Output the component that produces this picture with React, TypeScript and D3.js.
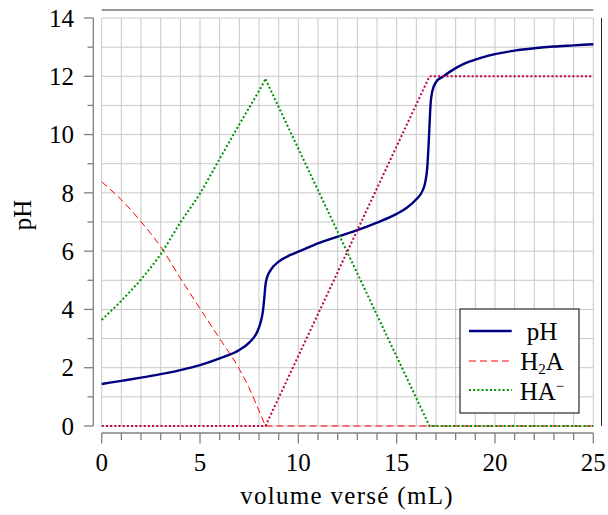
import * as d3 from 'd3';

// titration of a diacid H2A : volume (mL) -> value
const phCurve: [number, number][] = [
  [0, 1.44], [1, 1.55], [2, 1.66], [3, 1.78], [4, 1.92], [5, 2.09], [6, 2.32],
  [7, 2.61], [7.5, 2.86], [7.9, 3.22], [8.08, 3.55], [8.2, 3.95], [8.27, 4.4],
  [8.33, 4.85], [8.42, 5.12], [8.6, 5.36], [9, 5.64], [9.6, 5.87], [10, 5.98],
  [11, 6.27], [12, 6.5], [13, 6.72], [14, 6.98], [15, 7.28], [15.5, 7.48],
  [16, 7.78], [16.3, 8.05], [16.45, 8.35], [16.56, 8.9], [16.62, 9.6],
  [16.67, 10.3], [16.72, 11.0], [16.8, 11.45], [17.0, 11.8], [17.38, 12.0],
  [18, 12.28], [18.56, 12.47], [19, 12.57], [20, 12.76], [21, 12.88],
  [22, 12.96], [23, 13.02], [24, 13.06], [25, 13.1],
];
const h2aFalling: [number, number][] = [
  [0, 8.38], [1, 7.76], [2, 7.01], [3, 6.15], [4, 5.07], [5, 4.03], [6, 3.0],
  [7, 1.95], [7.5, 1.3], [8, 0.52], [8.33, 0],
];
const h2aFlat: [number, number][] = [[8.33, 0], [25, 0]];
const haRising: [number, number][] = [
  [0, 3.64], [1, 4.3], [2, 5.03], [3, 5.9], [4, 6.98], [5, 7.98], [6, 9.17],
  [7, 10.35], [8, 11.5], [8.33, 11.9],
];
const haFalling: [number, number][] = [[8.33, 11.9], [16.67, 0], [25, 0]];
const a2Curve: [number, number][] = [
  [0, 0], [8.33, 0], [16.67, 12], [25, 12],
];

const xTicks = [0, 5, 10, 15, 20, 25];
const yTicks = [0, 2, 4, 6, 8, 10, 12, 14];

const FONT = '"Liberation Serif", serif';
const FS = 25;

export default function App() {
  const x = d3.scaleLinear().domain([0, 25]).range([101.7, 593.3]);
  const y = d3.scaleLinear().domain([0, 14]).range([426, 18]);

  const lineSmooth = d3.line<[number, number]>()
    .x(d => x(d[0])).y(d => y(d[1])).curve(d3.curveMonotoneX);
  const lineStraight = d3.line<[number, number]>()
    .x(d => x(d[0])).y(d => y(d[1]));

  const [x0, x1] = x.range();
  const [yb, yt] = y.range();
  const axisY = 433;
  const axisX = 93.3;

  const legendX = 460, legendY = 309, legendW = 119, legendH = 104;
  const rows = [legendY + 22, legendY + 52, legendY + 81];

  const dash = '7 4';
  const dots = '2 2.2';

  return (
    <svg width={608} height={515}
      style={{ position: 'absolute', left: 0, top: 0, background: '#fff' }}
      fontFamily={FONT}>
      {/* grid */}
      <g stroke="#c8c8c8" strokeWidth={1}>
        {d3.range(0, 26).map(v => (
          <line key={'gx' + v} x1={x(v)} x2={x(v)} y1={yt} y2={yb} />
        ))}
        {d3.range(0, 15).map(v => (
          <line key={'gy' + v} x1={x0} x2={x1} y1={y(v)} y2={y(v)} />
        ))}
      </g>

      {/* frame pieces */}
      <line x1={x0} x2={x1} y1={10} y2={10} stroke="#777" strokeWidth={1.6} />
      <line x1={601.5} x2={601.5} y1={yt} y2={yb} stroke="#222" strokeWidth={1} />

      {/* left axis */}
      <g stroke="#808080" strokeWidth={1.3}>
        <line x1={axisX} x2={axisX} y1={yt} y2={yb} />
        {d3.range(0, 15).map(v => (
          <line key={'ty' + v} x1={v % 2 === 0 ? 84 : 87.5} x2={axisX} y1={y(v)} y2={y(v)} />
        ))}
      </g>
      {yTicks.map(v => (
        <text key={'ly' + v} x={74} y={y(v)} dy="0.35em" textAnchor="end" fontSize={FS}>{v}</text>
      ))}

      {/* bottom axis */}
      <g stroke="#808080" strokeWidth={1.3}>
        <line x1={x0} x2={x1} y1={axisY} y2={axisY} />
        {d3.range(0, 26).map(v => (
          <line key={'tx' + v} x1={x(v)} x2={x(v)} y1={axisY} y2={v % 5 === 0 ? 443.5 : 440} />
        ))}
      </g>
      {xTicks.map(v => (
        <text key={'lx' + v} x={x(v)} y={471} textAnchor="middle" fontSize={FS}>{v}</text>
      ))}

      <text x={347} y={504} textAnchor="middle" fontSize={FS} letterSpacing={1.3}>volume versé (mL)</text>
      <text transform="translate(31,215) rotate(-90)" textAnchor="middle" fontSize={FS}>pH</text>

      {/* curves */}
      <path d={lineSmooth(phCurve) ?? ''} fill="none" stroke="#000080" strokeWidth={2.4} />
      <path d={lineSmooth(h2aFalling) ?? ''} fill="none" stroke="#ff0000" strokeWidth={1} strokeDasharray={dash} />
      <path d={lineStraight(h2aFlat) ?? ''} fill="none" stroke="#ff0000" strokeWidth={1} strokeDasharray={dash} />
      <path d={lineSmooth(haRising) ?? ''} fill="none" stroke="#009000" strokeWidth={2} strokeDasharray={dots} />
      <path d={lineStraight(haFalling) ?? ''} fill="none" stroke="#009000" strokeWidth={2} strokeDasharray={dots} />
      <path d={lineStraight(a2Curve) ?? ''} fill="none" stroke="#c0004a" strokeWidth={2} strokeDasharray={dots} />

      {/* legend */}
      <rect x={legendX} y={legendY} width={legendW} height={legendH} fill="#fff" stroke="#000" strokeWidth={1} />
      <line x1={469} x2={511.7} y1={rows[0]} y2={rows[0]} stroke="#000080" strokeWidth={2.4} />
      <line x1={469} x2={511.7} y1={rows[1]} y2={rows[1]} stroke="#ff0000" strokeWidth={1} strokeDasharray={dash} />
      <line x1={469} x2={511.7} y1={rows[2]} y2={rows[2]} stroke="#009000" strokeWidth={2} strokeDasharray={dots} />
      <text x={542} y={rows[0]} dy="0.35em" textAnchor="middle" fontSize={FS}>pH</text>
      <text x={542} y={rows[1]} dy="0.35em" textAnchor="middle" fontSize={FS}>
        H<tspan fontSize={15} dy="4">2</tspan><tspan dy="-4">A</tspan>
      </text>
      <text x={542} y={rows[2] + 1} dy="0.35em" textAnchor="middle" fontSize={FS}>
        HA<tspan fontSize={15} dy="-9">−</tspan>
      </text>
    </svg>
  );
}
